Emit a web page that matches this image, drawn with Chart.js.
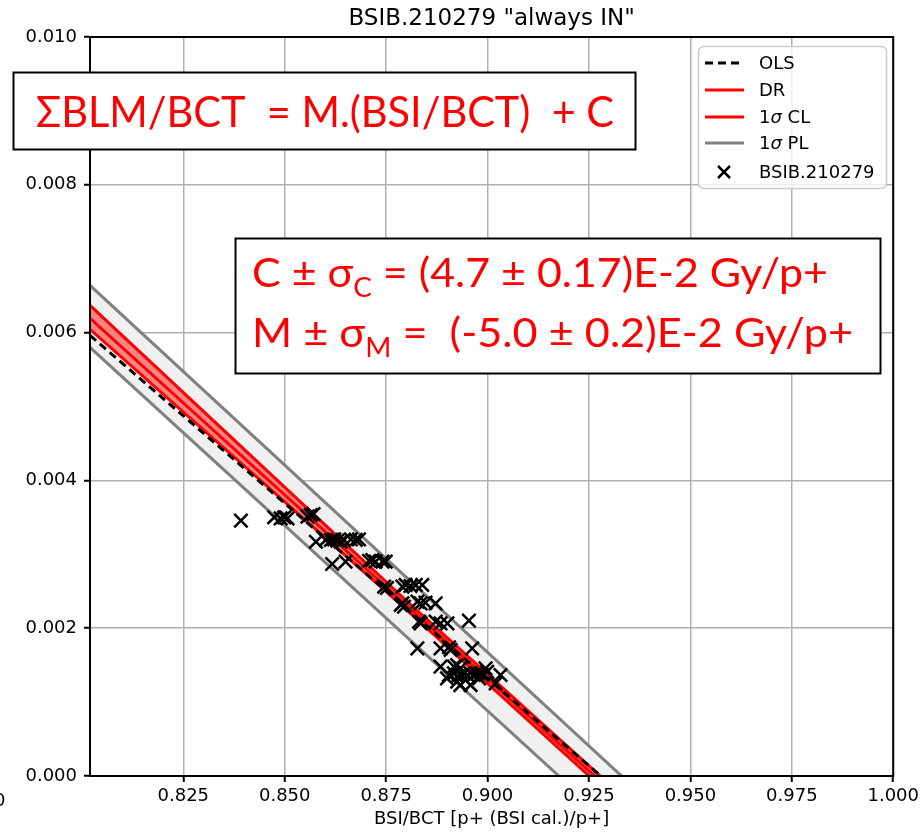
<!DOCTYPE html>
<html>
<head>
<meta charset="utf-8">
<script src="https://cdn.jsdelivr.net/npm/chart.js@4.4.1/dist/chart.umd.min.js"></script>
<style>
  html, body { margin: 0; padding: 0; background: #fff; }
</style>
</head>
<body>
<canvas id="fit" width="923" height="834"></canvas>
<script>
// measured points, BSI/BCT vs sum of BLM / BCT
const bsiBct = [0.8392, 0.8474, 0.8490, 0.8499, 0.8507, 0.8556, 0.8564, 0.8571,
  0.8577, 0.8601, 0.8614, 0.8622, 0.8630, 0.8638, 0.8646, 0.8663, 0.8675, 0.8683,
  0.8617, 0.8650, 0.8708, 0.8716, 0.8724, 0.8741, 0.8749,
  0.8745, 0.8752, 0.8790, 0.8798, 0.8810, 0.8823, 0.8839,
  0.8786, 0.8794, 0.8790, 0.8827, 0.8835, 0.8847, 0.8872,
  0.8831, 0.8835, 0.8872, 0.8884, 0.8901, 0.8954,
  0.8827, 0.8884, 0.8905, 0.8909, 0.8962,
  0.8884, 0.8917, 0.8925, 0.8933,
  0.8905, 0.8917, 0.8925, 0.8933, 0.8942, 0.8950, 0.8958, 0.8966, 0.8974,
  0.8995, 0.8999, 0.9032,
  0.8900, 0.8925, 0.8933, 0.8958, 0.8979, 0.9020, 0.8987];
const blmBct = [0.003455, 0.003501, 0.003487, 0.003501, 0.003487, 0.003509, 0.003532, 0.003545,
  0.003170, 0.003194, 0.003194, 0.003203, 0.003184, 0.003170, 0.003194, 0.003203, 0.003194, 0.003203,
  0.002869, 0.002900, 0.002913, 0.002923, 0.002900, 0.002900, 0.002900,
  0.002562, 0.002544, 0.002562, 0.002585, 0.002571, 0.002585, 0.002585,
  0.002314, 0.002291, 0.002337, 0.002359, 0.002337, 0.002345, 0.002337,
  0.002088, 0.002066, 0.002088, 0.002066, 0.002066, 0.002102,
  0.001728, 0.001728, 0.001742, 0.001705, 0.001728,
  0.001479, 0.001479, 0.001502, 0.001457,
  0.001367, 0.001390, 0.001344, 0.001367, 0.001390, 0.001367, 0.001390, 0.001367, 0.001390,
  0.001457, 0.001411, 0.001367,
  0.001322, 0.001276, 0.001231, 0.001231, 0.001322, 0.001254, 0.001367];

// fit lines: values at the left edge and just past zero (clipped by the plot)
const lineX = [0.802, 0.935];
const olsY = [0.005963, -0.000336];
const drY = [0.006193, -0.000428];
const clX = [0.802, 0.880, 0.935];
const clUpperY = [0.006368, 0.002370, -0.000359];
const clLowerY = [0.006044, 0.002250, -0.000497];
const plUpperY = [0.006639, -0.000100];
const plLowerY = [0.005800, -0.000875];

const xTicks = [0.825, 0.850, 0.875, 0.900, 0.925, 0.950, 0.975, 1.000];
const yTicks = [0.000, 0.002, 0.004, 0.006, 0.008, 0.010];

const FONT = 'DejaVu Sans';
const pts = (xs, ys) => xs.map((x, i) => ({x: x, y: ys[i]}));

function line(data, color, width, extra) {
  return Object.assign({
    type: 'line', data: data, borderColor: color, borderWidth: width,
    pointRadius: 0, fill: false, tension: 0, clip: 0
  }, extra || {});
}

// legend, frame, title and the two annotation boxes
const decor = {
  id: 'decor',
  afterDraw(chart) {
    const ctx = chart.ctx;
    const a = chart.chartArea;
    ctx.save();

    // frame
    ctx.strokeStyle = '#000';
    ctx.lineWidth = 2;
    ctx.strokeRect(a.left, a.top, a.right - a.left, a.bottom - a.top);

    // title
    ctx.fillStyle = '#000';
    ctx.font = '23px "' + FONT + '"';
    ctx.textAlign = 'center';
    ctx.textBaseline = 'alphabetic';
    ctx.fillText('BSIB.210279 "always IN"', (a.left + a.right) / 2, 25);

    ctx.textAlign = 'left';
    ctx.font = '18px "' + FONT + '"';
    ctx.fillText('0', -6, 806);

    // legend
    ctx.beginPath();
    ctx.roundRect(698.5, 46.5, 188, 142, 5);
    ctx.fillStyle = 'rgba(255,255,255,0.8)';
    ctx.fill();
    ctx.strokeStyle = '#cccccc';
    ctx.lineWidth = 1.5;
    ctx.stroke();

    const rows = [
      {y: 63, label: ['OLS'], color: '#000', dash: [8, 5]},
      {y: 90, label: ['DR'], color: '#ff0000'},
      {y: 117, label: ['1', 'σ', ' CL'], color: '#ff0000'},
      {y: 143, label: ['1', 'σ', ' PL'], color: '#808080'},
      {y: 172, label: ['BSIB.210279'], marker: true}
    ];
    ctx.textBaseline = 'middle';
    rows.forEach(r => {
      ctx.strokeStyle = r.color || '#000';
      ctx.lineWidth = r.marker ? 2.5 : 3;
      ctx.setLineDash(r.dash || []);
      ctx.beginPath();
      if (r.marker) {
        ctx.moveTo(718, r.y - 6); ctx.lineTo(730, r.y + 6);
        ctx.moveTo(718, r.y + 6); ctx.lineTo(730, r.y - 6);
      } else {
        ctx.moveTo(705, r.y); ctx.lineTo(744, r.y);
      }
      ctx.stroke();
      ctx.setLineDash([]);
      let x = 759;
      ctx.fillStyle = '#000';
      r.label.forEach(t => {
        ctx.font = (t === 'σ' ? 'italic ' : '') + '18px "' + FONT + '"';
        ctx.fillText(t, x, r.y + 1);
        x += ctx.measureText(t).width;
      });
    });

    // annotation boxes
    box(ctx, 13.5, 72.5, 622, 77);
    runs(ctx, [{t: 'ΣBLM/BCT  = M.(BSI/BCT)  + C'}], 36, 127, 578, 42);
    box(ctx, 235.5, 238.5, 645, 135);
    runs(ctx, [{t: 'C ± σ'}, {t: 'C', sub: true}, {t: ' = (4.7 ± 0.17)E-2 Gy/p+'}], 252, 287, 576, 40);
    runs(ctx, [{t: 'M ± σ'}, {t: 'M', sub: true}, {t: ' =  (-5.0 ± 0.2)E-2 Gy/p+'}], 252, 347, 601, 40);

    ctx.restore();
  }
};

function box(ctx, x, y, w, h) {
  ctx.fillStyle = '#fff';
  ctx.fillRect(x, y, w, h);
  ctx.strokeStyle = '#000';
  ctx.lineWidth = 2;
  ctx.strokeRect(x, y, w, h);
}

// text with subscripts, squeezed to a given width
function runs(ctx, parts, x, base, width, size) {
  const fontOf = p => (p.sub ? Math.round(size * 0.65) : size) + 'px Lato';
  let total = 0;
  parts.forEach(p => { ctx.font = fontOf(p); total += ctx.measureText(p.t).width; });
  ctx.save();
  ctx.translate(x, base);
  ctx.scale(width / total, 1);
  ctx.fillStyle = '#ff0000';
  ctx.textBaseline = 'alphabetic';
  ctx.textAlign = 'left';
  let cx = 0;
  parts.forEach(p => {
    ctx.font = fontOf(p);
    ctx.fillText(p.t, cx, p.sub ? 10 : 0);
    cx += ctx.measureText(p.t).width;
  });
  ctx.restore();
}

// higher order is painted first; each band fill goes under both of its edges
new Chart(document.getElementById('fit'), {
  type: 'scatter',
  data: {
    datasets: [
      {
        label: 'BSIB.210279', data: pts(bsiBct, blmBct), order: 0,
        pointStyle: 'crossRot', pointRadius: 9.5, pointHoverRadius: 9.5,
        borderColor: '#000', backgroundColor: '#000', pointBorderWidth: 2.5
      },
      line(pts(lineX, olsY), '#000', 3, {label: 'OLS', borderDash: [8, 5], order: 1}),
      line(pts(lineX, drY), '#ff0000', 3, {label: 'DR', order: 2}),
      line(pts(clX, clUpperY), '#ff0000', 3, {label: '1σ CL', order: 4, fill: '+1', backgroundColor: 'rgba(255,0,0,0.45)'}),
      line(pts(clX, clLowerY), '#ff0000', 3, {label: '1σ CL low', order: 3}),
      line(pts(lineX, plUpperY), '#808080', 3, {label: '1σ PL', order: 6, fill: '+1', backgroundColor: '#f0f0f0'}),
      line(pts(lineX, plLowerY), '#808080', 3, {label: '1σ PL low', order: 5})
    ]
  },
  options: {
    responsive: false,
    animation: false,
    devicePixelRatio: 1,
    layout: {padding: {top: 37, right: 28, bottom: 0, left: 0}},
    plugins: {legend: {display: false}, tooltip: {enabled: false}, title: {display: false}},
    scales: {
      x: {
        type: 'linear', min: 0.802, max: 1.0,
        afterFit: s => { s.height = 58; },
        afterBuildTicks: s => { s.ticks = xTicks.map(v => ({value: v})); },
        grid: {color: '#b0b0b0', lineWidth: 1.5, tickColor: '#000', tickLength: 6, tickWidth: 2},
        border: {color: '#000', width: 2},
        ticks: {color: '#000', font: {family: FONT, size: 18}, padding: 4, maxRotation: 0,
          callback: v => v.toFixed(3)},
        title: {display: true, text: 'BSI/BCT [p+ (BSI cal.)/p+]', color: '#000',
          font: {family: FONT, size: 18}, padding: {top: 0, bottom: 4}}
      },
      y: {
        type: 'linear', min: 0, max: 0.010,
        afterFit: s => { s.width = 90; },
        afterBuildTicks: s => { s.ticks = yTicks.map(v => ({value: v})); },
        grid: {color: '#b0b0b0', lineWidth: 1.5, tickColor: '#000', tickLength: 6, tickWidth: 2},
        border: {color: '#000', width: 2},
        ticks: {color: '#000', font: {family: FONT, size: 18}, padding: 7,
          callback: v => v.toFixed(3)}
      }
    }
  },
  plugins: [decor]
});
</script>
</body>
</html>
